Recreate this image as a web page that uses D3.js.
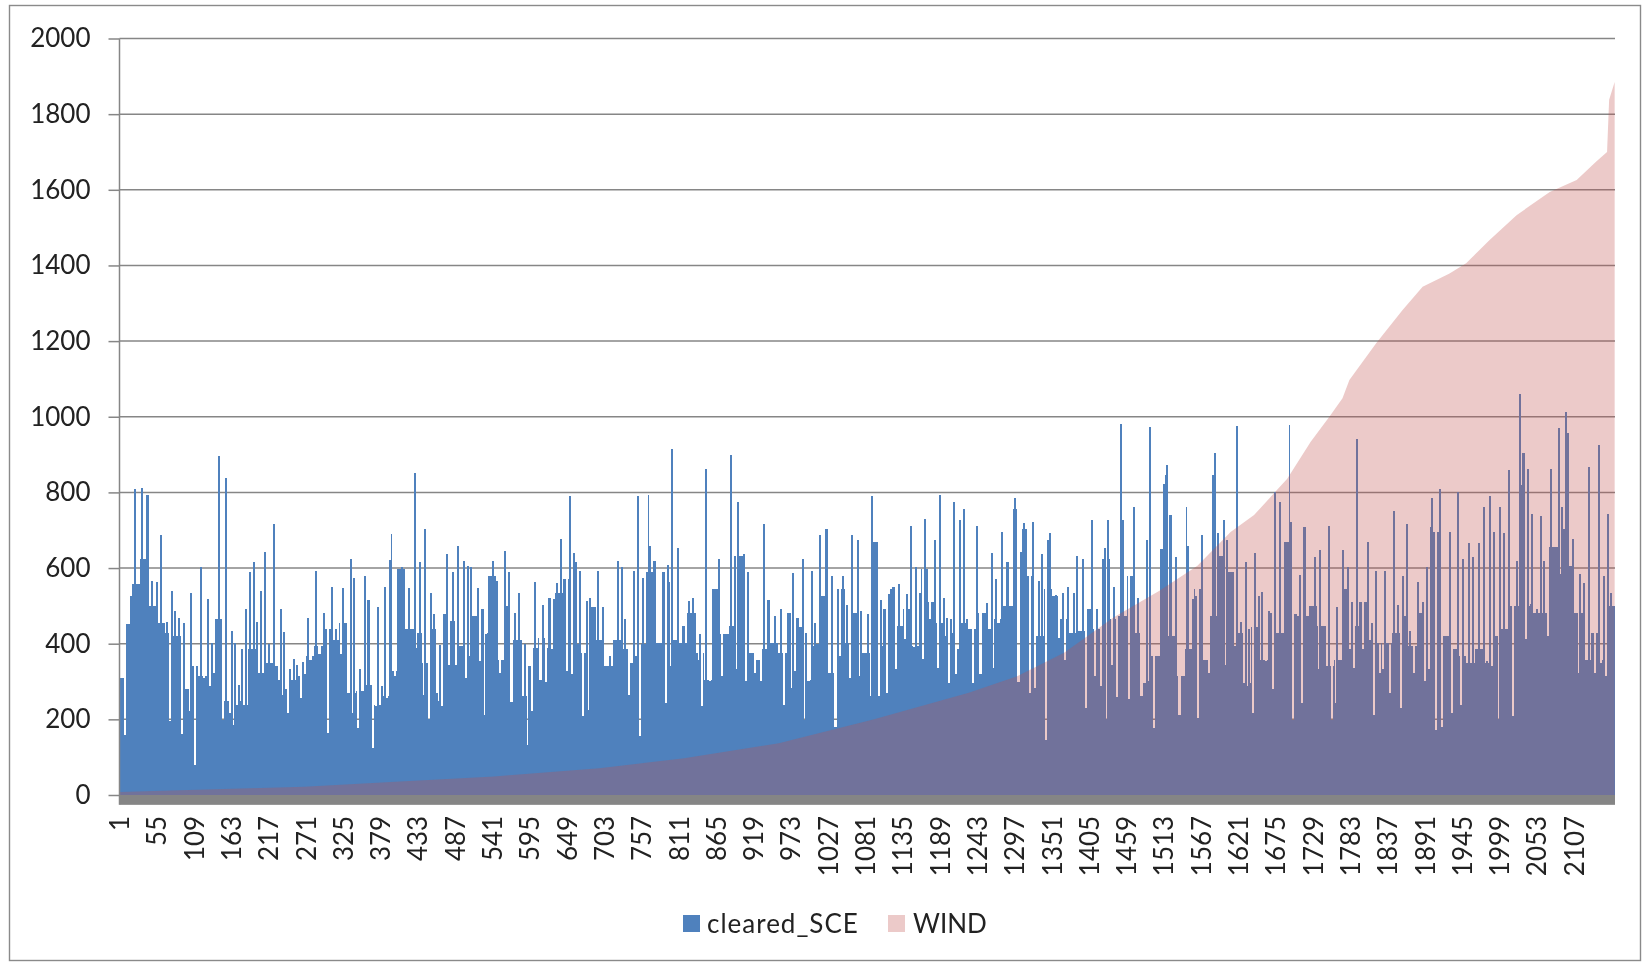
<!DOCTYPE html>
<html><head><meta charset="utf-8">
<script src="https://cdn.jsdelivr.net/npm/d3@7/dist/d3.min.js"></script>
<style>html,body{margin:0;padding:0;background:#fff;overflow:hidden}svg{display:block}text{font-family:Lato,"Open Sans",sans-serif;fill:#222}</style>
</head><body><svg id="c" width="1650" height="966"></svg>
<script>
const categoryCount = 2165;
const tickStep = 54;
const lastTick = 2107;
const yTicks = [0,200,400,600,800,1000,1200,1400,1600,1800,2000];
const seriesNames = ["cleared_SCE","WIND"];

// cleared_SCE: body of the bars, one reading every 12 categories from category 1
const clearedBase = [
310,451,558,624,500,456,429,420,279,341,314,323,465,248,239,239,385,323,350,341,279,305,314,
367,394,438,411,456,270,274,292,239,261,327,597,438,429,350,438,478,460,394,429,473,429,580,
358,500,411,261,389,416,389,535,571,615,376,496,411,341,411,385,350,398,589,403,562,411,403,
482,376,305,544,425,447,633,376,358,385,403,376,482,443,305,394,527,323,544,403,482,376,668,
394,544,447,491,394,597,509,456,429,385,456,438,482,438,465,500,757,704,580,420,544,527,
465,429,434,491,438,624,465,473,580,429,296,367,650,420,314,385,544,358,473,633,589,429,296,
443,358,482,429,668,473,473,500,447,341,358,544,447,509,411,403,403,429,473,394,482,708,695,
420,385,367,350,385,350,420,438,500,819,500,482,482,655,704,606,482,358,429,350,500];

// cleared_SCE: tall single readings rising above the body [category, value]
const clearedPeaks = [
[22,808],[32,812],[40,792],[16,527],[46,566],[54,562],[59,688],[68,458],[75,540],[80,487],[85,469],[93,454],[103,535],[117,602],[128,518],[133,403],[143,897],[154,838],[162,434],[167,403],[172,292],[177,385],[183,493],[188,589],[194,615],[199,458],[204,540],[210,643],[216,398],[223,717],[233,493],[238,431],[246,332],[252,360],[257,345],[265,351],
[273,469],[284,593],[296,482],[307,550],[313,438],[323,546],[334,624],[339,575],[347,332],[355,580],[360,516],[374,496],[379,288],[384,549],[392,690],[391,620],[408,602],[419,546],[427,852],[434,615],[442,702],[451,535],[455,478],[463,396],[473,637],[482,590],[490,658],[498,618],[504,606],[508,602],[519,546],[525,493],[530,425],[540,618],
[546,566],[557,646],[563,590],[572,482],[578,535],[586,398],[593,341],[601,562],[612,502],[622,522],[628,518],[633,560],[639,677],[652,790],[658,640],[666,593],[676,513],[681,522],[692,593],[700,496],[710,367],[721,618],[727,602],[731,465],[745,593],[750,790],[758,575],[766,794],[768,659],[774,618],[787,590],[793,609],[800,916],[808,652],[816,447],
[824,513],[830,520],[840,425],[848,863],[867,624],[885,900],[891,633],[895,774],[904,637],[909,590],[933,717],[939,516],[948,473],[957,493],[975,587],[981,469],[989,624],[994,429],[1002,593],[1007,454],[1013,688],[1023,702],[1031,580],[1047,580],[1053,502],[1060,688],[1068,673],[1073,487],[1083,478],[1089,790],
[1102,516],[1107,493],[1113,531],[1120,549],[1128,559],[1140,531],[1145,711],[1153,602],[1159,535],[1166,730],[1180,673],[1187,794],[1193,522],[1198,469],[1203,465],[1208,774],[1216,726],[1222,755],[1229,438],[1241,711],[1255,507],[1262,640],[1269,571],[1277,696],[1285,615],[1296,785],[1304,643],[1309,720],[1322,721],[1330,566],[1335,637],[1344,673],[1347,692],[1355,528],[1365,535],
[1373,549],[1381,535],[1386,633],[1394,624],[1408,726],[1415,493],[1426,652],[1431,726],[1439,551],[1449,982],[1452,726],[1468,761],[1474,520],[1487,673],[1492,973],[1512,823],[1514,845],[1516,872],[1521,741],[1529,628],[1545,761],[1547,659],[1553,518],[1558,525],[1566,688],[1582,847],[1585,905],[1590,692],[1598,726],[1603,673],[1617,976],[1623,458],[1630,615],[1635,440],[1643,640],
[1649,527],[1654,537],[1664,487],[1672,801],[1680,774],[1694,978],[1695,721],[1702,478],[1709,581],[1715,708],[1730,628],[1738,649],[1750,712],[1762,496],[1771,649],[1778,602],[1784,509],[1791,941],[1807,668],[1813,454],[1819,593],[1831,593],[1844,750],[1850,502],[1857,580],[1863,717],[1868,434],[1879,562],[1886,509],[1892,602],[1900,785],[1911,808],
[1926,696],[1937,801],[1945,624],[1953,666],[1959,628],[1967,666],[1975,761],[1984,790],[1990,696],[1998,761],[2004,693],[2011,858],[2022,618],[2027,1060],[2032,903],[2038,863],[2045,742],[2057,737],[2062,618],[2072,863],[2083,969],[2088,761],[2093,1013],[2096,956],[2104,677],[2114,584],[2120,560],[2127,867],[2141,925],[2149,580],[2154,742],[2159,535]];

// cleared_SCE: low single readings cutting into the body [category, value]
const clearedDips = [
[8,159],[26,558],[72,195],[90,161],[109,80],[101,221],[122,310],[130,288],[136,323],[149,199],[159,217],[164,186],[175,248],[180,239],[201,323],[220,350],[230,305],[236,265],[244,217],[262,257],
[268,319],[276,358],[289,372],[302,165],[320,372],[337,217],[345,177],[350,274],[366,124],[371,235],[386,257],[399,314],[429,389],[440,265],[448,201],[459,270],[462,248],[467,236],[477,343],[487,343],[501,310],[506,367],[522,354],[527,212],
[551,323],[567,245],[583,261],[591,133],[596,221],[609,305],[617,298],[626,387],[647,327],[655,319],[663,398],[671,208],[679,226],[737,265],[747,367],[753,155],[790,243],[798,341],
[838,358],[843,236],[854,301],[872,314],[894,334],[907,301],[920,323],[928,301],[962,239],[973,283],[978,327],[991,199],[997,301],[1010,398],[1036,181],[1042,367],[1057,310],[1071,314],[1087,261],
[1099,261],[1110,270],[1124,334],[1137,412],[1150,392],[1163,360],[1173,465],[1185,336],[1195,420],[1200,296],[1211,321],[1226,465],[1235,296],[1246,321],[1264,336],[1272,456],[1291,500],[1301,298],[1317,270],[1325,283],[1341,146],[1359,416],[1368,358],
[1399,230],[1412,314],[1421,288],[1428,201],[1436,345],[1444,259],[1461,255],[1479,261],[1490,301],[1497,177],[1534,212],[1561,204],[1577,323],[1600,345],[1614,394],[1633,288],[1640,217],
[1659,354],[1670,281],[1683,429],[1698,199],[1712,243],[1736,332],[1755,199],[1760,243],[1781,385],[1786,336],[1800,387],[1816,212],[1824,323],[1829,332],[1839,270],[1855,230],[1873,323],[1889,301],[1895,332],[1906,173],[1914,181],
[1929,217],[1942,239],[1956,350],[1979,354],[1987,341],[1996,201],[2006,438],[2017,208],[2025,500],[2036,412],[2043,504],[2051,491],[2067,420],[2085,584],[2112,323],[2123,358],[2136,323],[2147,358],[2152,314]];

// WIND: readings along the upper edge of the area
const windCategories = [1,268,400,543,695,818,955,1093,1230,1300,1368,1440,1506,1561,1609,1643,1691,1725,1752,1771,1781,1820,1858,1887,1926,1950,1984,2023,2071,2110,2138,2154,2157,2165];
const windValues = [8,22,35,49,71,97,137,200,270,314,376,470,540,606,695,740,836,934,1000,1049,1097,1195,1282,1344,1379,1406,1467,1533,1594,1626,1674,1700,1838,1885];

const svg = d3.select("#c");
const defs = svg.append("defs");
defs.append("filter").attr("id","soft").attr("x","-2%").attr("y","-2%").attr("width","104%").attr("height","104%")
  .append("feGaussianBlur").attr("stdDeviation",0.6);
const root = svg.append("g").attr("filter","url(#soft)");

const categories = d3.range(1, categoryCount + 1);
const x = d3.scaleBand().domain(categories).range([119.5, 1615]).padding(0);
const y = d3.scaleLinear().domain([0, 2000]).range([795, 38.5]);
const floorValue = -26;

// assemble per-category readings
const cleared = new Map(categories.map(c => [c, clearedBase[Math.min(clearedBase.length - 1, Math.round((c - 1) / 12))]]));
const markWidth = 3;
clearedDips.forEach(([c, v]) => d3.range(c, c + markWidth).forEach(k => { if (k <= categoryCount) cleared.set(k, v); }));
clearedPeaks.forEach(([c, v]) => d3.range(c, c + markWidth).forEach(k => { if (k <= categoryCount) cleared.set(k, v); }));

// frame
root.append("rect").attr("x",9.5).attr("y",5.5).attr("width",1631).attr("height",955)
  .attr("fill","#fff").attr("stroke","#8a8a8a").attr("stroke-width",1.4);

// y axis with gridlines
const gridColor = "#868686";
const yAxis = d3.axisLeft(y).tickValues(yTicks).tickFormat(d3.format("d")).tickSize(11).tickPadding(18);
const gy = root.append("g").attr("transform","translate(119.5,0)").call(yAxis);
gy.select(".domain").remove();
gy.selectAll("line").attr("stroke",gridColor).attr("stroke-width",1.5);
gy.selectAll("text").attr("font-size",26).style("font-family","Lato").attr("fill","#222");
root.append("g").selectAll("line").data(yTicks.filter(t => t > 0)).join("line")
  .attr("x1",119.5).attr("x2",1615).attr("y1",d => y(d)).attr("y2",d => y(d))
  .attr("stroke",gridColor).attr("stroke-width",1.5);

// cleared_SCE bars
root.append("g").attr("shape-rendering","crispEdges").selectAll("rect").data(categories).join("rect")
  .attr("x",c => x(c)).attr("width",x.bandwidth())
  .attr("y",c => y(cleared.get(c))).attr("height",c => y(0) - y(cleared.get(c)))
  .attr("fill","#4F81BD");

// WIND area, drawn over the bars
const windPoints = windCategories.map((c, i) => [c, windValues[i]]);
root.append("path").datum(windPoints)
  .attr("d", d3.area().x(d => x(d[0]) + x.bandwidth() / 2).y0(y(0)).y1(d => y(d[1])))
  .attr("fill","#C0504D").attr("fill-opacity",0.3);

// band below zero and vertical axis
root.append("rect").attr("x",119.5).attr("width",1615 - 119.5)
  .attr("y",y(0)).attr("height",y(floorValue) - y(0)).attr("fill","#858585");
root.append("line").attr("x1",119.5).attr("x2",119.5).attr("y1",y(2000)).attr("y2",y(floorValue))
  .attr("stroke",gridColor).attr("stroke-width",1.5);

// x axis labels
const xAxis = d3.axisBottom(x).tickValues(categories.filter(c => (c - 1) % tickStep === 0 && c <= lastTick)).tickSize(0);
const gx = root.append("g").attr("transform",`translate(0,${y(floorValue)})`).call(xAxis);
gx.select(".domain").remove();
gx.selectAll("text").attr("font-size",26).style("font-family","Lato").attr("fill","#222")
  .attr("text-anchor","end").attr("dy",0).attr("y",0)
  .attr("transform","translate(9,11) rotate(-90)");

// legend
const legend = root.append("g");
const legendItems = [{name:seriesNames[0],sx:683,tx:707,fill:"#4F81BD",op:1,ls:1},{name:seriesNames[1],sx:888,tx:913,fill:"#C0504D",op:0.3,ls:0}];
legend.selectAll("rect").data(legendItems).join("rect")
  .attr("x",d=>d.sx).attr("y",915).attr("width",17).attr("height",17).attr("fill",d=>d.fill).attr("fill-opacity",d=>d.op);
legend.selectAll("text").data(legendItems).join("text")
  .attr("x",d=>d.tx).attr("y",933).attr("font-size",26).attr("letter-spacing",d=>d.ls).text(d=>d.name);
</script></body></html>
